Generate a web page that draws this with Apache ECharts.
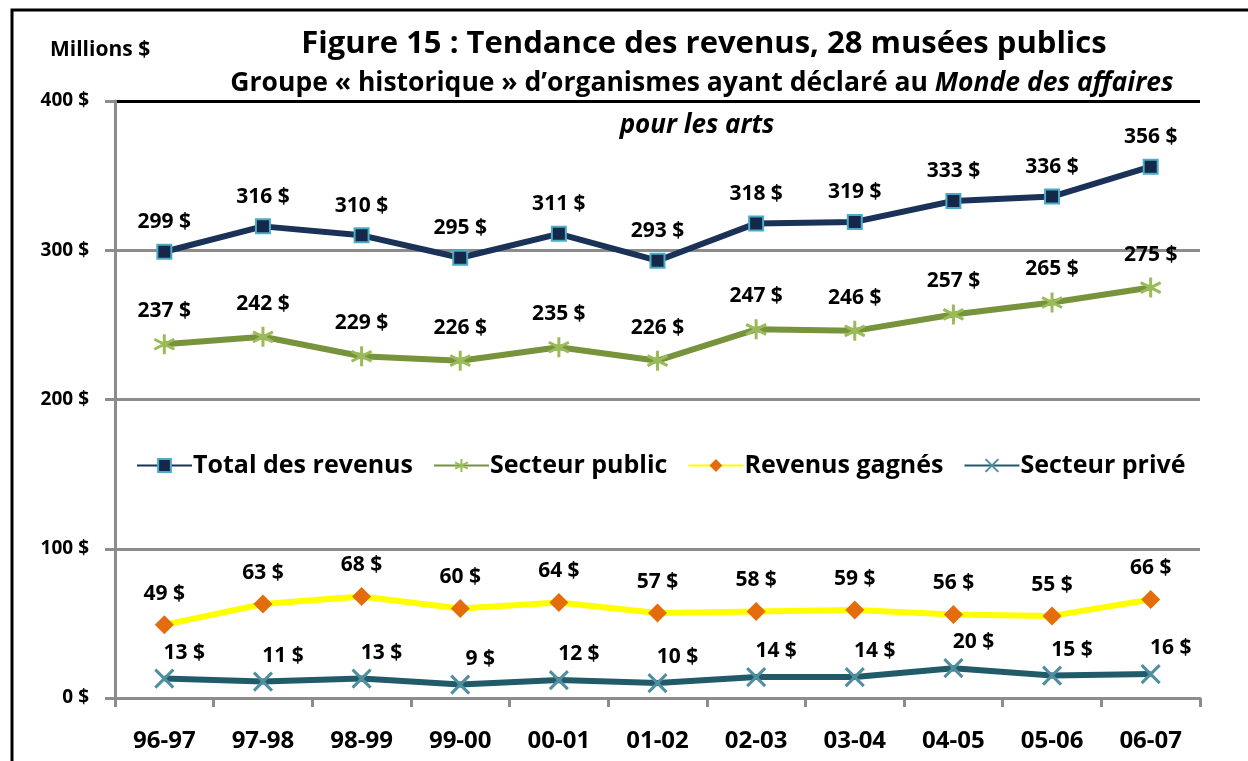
<!DOCTYPE html>
<html>
<head>
<meta charset="utf-8">
<script src="https://cdn.jsdelivr.net/npm/echarts@6/dist/echarts.min.js"></script>
<style>
  html, body { margin: 0; padding: 0; background: #fff; }
  #chart { width: 1248px; height: 761px; }
</style>
</head>
<body>
<div id="chart"></div>
<script>
const categories = ['96-97', '97-98', '98-99', '99-00', '00-01', '01-02', '02-03', '03-04', '04-05', '05-06', '06-07']
const totalRevenus = [299, 316, 310, 295, 311, 293, 318, 319, 333, 336, 356]
const secteurPublic = [237, 242, 229, 226, 235, 226, 247, 246, 257, 265, 275]
const revenusGagnes = [49, 63, 68, 60, 64, 57, 58, 59, 56, 55, 66]
const secteurPrive = [13, 11, 13, 9, 12, 10, 14, 14, 20, 15, 16]

const FONT = '"Open Sans", Lato, sans-serif'
const starPath = 'path://M5,0L5,10M0.8,2.5L9.2,7.5M9.2,2.5L0.8,7.5'
const crossPath = 'path://M0,0L10,10M10,0L0,10'

const labelStyle = {
  show: true,
  position: 'top',
  distance: 11,
  formatter: '{c} $',
  color: '#000',
  fontFamily: FONT,
  fontWeight: 'bold',
  fontSize: 21
}

const chart = echarts.init(document.getElementById('chart'))

chart.setOption({
  backgroundColor: '#fff',
  animation: false,
  textStyle: { fontFamily: FONT },
  graphic: [
    {
      type: 'polyline',
      shape: { points: [[12, 1000], [12, 10], [1248, 10]] },
      style: { stroke: '#000', lineWidth: 3, fill: null }
    },
    {
      type: 'text', left: 50, top: 40,
      style: { text: 'Millions $', font: 'bold 21px ' + FONT, fill: '#000' }
    },
    {
      type: 'text', x: 704, y: 44,
      style: {
        text: 'Figure 15 : Tendance des revenus, 28 musées publics',
        font: 'bold 31px ' + FONT, fill: '#000',
        textAlign: 'center', textVerticalAlign: 'middle'
      }
    },
    {
      type: 'text', x: 702, y: 83,
      style: {
        text: 'Groupe « historique » d’organismes ayant déclaré au {i|Monde des affaires}',
        font: 'bold 26.5px ' + FONT, fill: '#000',
        textAlign: 'center', textVerticalAlign: 'middle',
        rich: { i: { fontStyle: 'italic', fontWeight: 'bold', fontSize: 26.5, fontFamily: FONT, fill: '#000' } }
      }
    },
    {
      type: 'text', x: 697, y: 126,
      style: {
        text: 'pour les arts',
        font: 'italic bold 26px ' + FONT, fill: '#000',
        textAlign: 'center', textVerticalAlign: 'middle'
      }
    }
  ],
  legend: {
    top: 448,
    left: 131,
    itemWidth: 55,
    itemHeight: 16,
    itemGap: 20,
    textStyle: { fontFamily: FONT, fontWeight: 'bold', fontSize: 25, color: '#000', padding: [0, 0, 0, -4] },
    data: ['Total des revenus', 'Secteur public', 'Revenus gagnés', 'Secteur privé']
  },
  grid: { left: 115, right: 48, top: 101, bottom: 63 },
  xAxis: {
    type: 'category',
    data: categories,
    boundaryGap: true,
    axisLine: { lineStyle: { color: '#8c8c8c', width: 3 } },
    axisTick: { show: true, length: 9, lineStyle: { color: '#8c8c8c', width: 3 } },
    axisLabel: { color: '#000', fontFamily: FONT, fontWeight: 'bold', fontSize: 24, margin: 31 }
  },
  yAxis: {
    type: 'value',
    min: 0,
    max: 400,
    interval: 100,
    axisLine: { show: true, lineStyle: { color: '#8c8c8c', width: 3 } },
    axisTick: { show: true, length: 10, lineStyle: { color: '#8c8c8c', width: 3 } },
    axisLabel: { formatter: '{value} $', color: '#000', fontFamily: FONT, fontWeight: 'bold', fontSize: 19, margin: 26 },
    splitLine: { lineStyle: { color: ['#8c8c8c', '#8c8c8c', '#8c8c8c', '#8c8c8c', '#000'], width: 3 } }
  },
  series: [
    {
      name: 'Total des revenus',
      type: 'line',
      data: totalRevenus,
      symbol: 'rect',
      symbolSize: 14,
      lineStyle: { color: '#1a3257', width: 6 },
      itemStyle: { color: '#16284a', borderColor: '#4bacc6', borderWidth: 2 },
      label: labelStyle,
      z: 4
    },
    {
      name: 'Secteur public',
      type: 'line',
      data: secteurPublic,
      symbol: starPath,
      symbolSize: 20,
      lineStyle: { color: '#77933c', width: 6 },
      itemStyle: { color: 'rgba(0,0,0,0)', borderColor: '#9bbb59', borderWidth: 3 },
      label: labelStyle,
      z: 3
    },
    {
      name: 'Revenus gagnés',
      type: 'line',
      data: revenusGagnes,
      symbol: 'diamond',
      symbolSize: 19,
      lineStyle: { color: '#ffff00', width: 6 },
      itemStyle: { color: '#e46c0a' },
      label: labelStyle,
      z: 3
    },
    {
      name: 'Secteur privé',
      type: 'line',
      data: secteurPrive,
      symbol: crossPath,
      symbolSize: 18,
      lineStyle: { color: '#215a69', width: 6 },
      itemStyle: { color: 'rgba(0,0,0,0)', borderColor: '#4f8fa0', borderWidth: 3 },
      label: Object.assign({}, labelStyle, { distance: 5, offset: [20, 0] }),
      z: 3
    }
  ]
})

window.addEventListener('resize', () => chart.resize())
</script>
</body>
</html>
